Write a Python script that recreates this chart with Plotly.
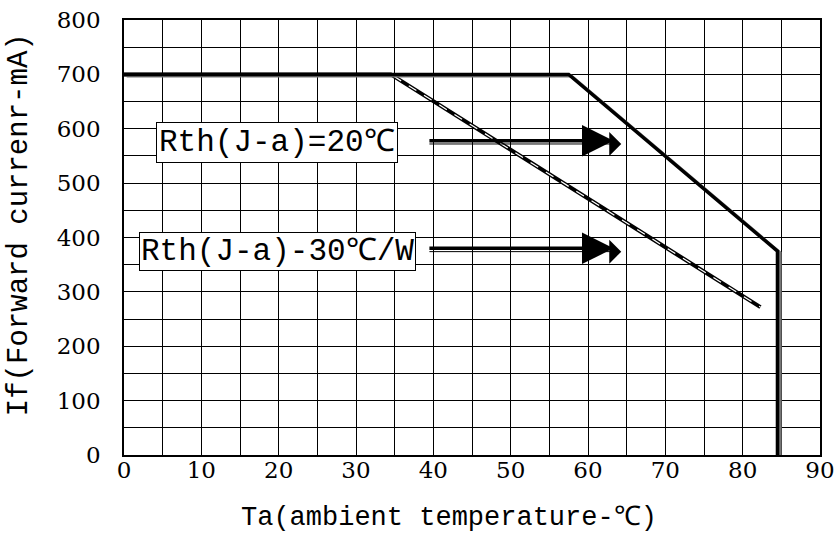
import plotly.graph_objects as go

# Data
ta_20 = [0, 57.5, 84.5, 84.5]
if_20 = [700, 700, 375, 0]
ta_30 = [0, 34.5, 82.3]
if_30 = [700, 700, 272]

x_ticks = [0, 10, 20, 30, 40, 50, 60, 70, 80, 90]
y_ticks = [0, 100, 200, 300, 400, 500, 600, 700, 800]

label_20 = "Rth(J-a)=20℃"
label_30 = "Rth(J-a)-30℃/W"
arrow_20 = dict(x0=39.3, x1=64.3, y=578)
arrow_30 = dict(x0=39.3, x1=64.3, y=380)

SERIF = "'DejaVu Serif', serif"
MONO = "'Liberation Mono', monospace"

fig = go.Figure()

# Rth 30 curve: black outline with white dashed core
fig.add_trace(go.Scatter(x=ta_30, y=if_30, mode="lines",
                         line=dict(color="black", width=4), showlegend=False))
fig.add_trace(go.Scatter(x=ta_30, y=if_30, mode="lines",
                         line=dict(color="white", width=1.2, dash="dash"), hoverinfo="skip", showlegend=False))
# Rth 20 curve: gray shadow + black line
fig.add_trace(go.Scatter(x=[v + 0.35 for v in ta_20], y=[v - 3 for v in if_20], mode="lines",
                         line=dict(color="#777777", width=3), hoverinfo="skip", showlegend=False))
fig.add_trace(go.Scatter(x=ta_20, y=if_20, mode="lines",
                         line=dict(color="black", width=3.5), showlegend=False))

fig.add_annotation(x=19.8, y=574, xref="x", yref="y", text=label_20, showarrow=False,
                   font=dict(family=MONO, size=31, color="black"),
                   bgcolor="white", bordercolor="black", borderwidth=1, borderpad=2)
fig.add_annotation(x=19.9, y=374, xref="x", yref="y", text=label_30, showarrow=False,
                   font=dict(family=MONO, size=31, color="black"),
                   bgcolor="white", bordercolor="black", borderwidth=1, borderpad=1)

for a in (arrow_20, arrow_30):
    # thin lower shaft
    fig.add_annotation(x=a["x1"], y=a["y"] - 6, ax=a["x0"], ay=a["y"] - 6, xref="x", yref="y",
                       axref="x", ayref="y", text="", showarrow=True,
                       arrowhead=1, arrowsize=4, arrowwidth=1, arrowcolor="black")
    # thick upper shaft with filled head
    fig.add_annotation(x=a["x1"] - 1.0, y=a["y"], ax=a["x0"], ay=a["y"], xref="x", yref="y",
                       axref="x", ayref="y", text="", showarrow=True,
                       arrowhead=2, arrowsize=1.8, arrowwidth=3.5, arrowcolor="black")

fig.add_annotation(x=0.467, xref="paper", y=-0.145, yref="paper", yanchor="middle",
                   text="Ta(ambient temperature-℃)", showarrow=False,
                   font=dict(family=MONO, size=27, color="black"))
fig.add_annotation(x=-0.149, xref="paper", xanchor="center", y=0.529, yref="paper",
                   text="If(Forward currenr-mA)", textangle=-90, showarrow=False,
                   font=dict(family=MONO, size=29, color="black"))

fig.update_xaxes(range=[0, 90], tickvals=x_ticks, ticktext=[str(v) for v in x_ticks],
                 showgrid=True, gridcolor="black", gridwidth=1,
                 minor=dict(dtick=5, showgrid=True, gridcolor="black", gridwidth=1),
                 showline=True, linecolor="black", linewidth=1.5, mirror=True,
                 zeroline=False, ticks="", ticklabelstandoff=-6, automargin=False,
                 ticklabeloverflow="allow",
                 tickfont=dict(family=SERIF, size=23, color="black"))
fig.update_yaxes(range=[0, 800], tickvals=y_ticks, ticktext=[str(v) for v in y_ticks],
                 showgrid=True, gridcolor="black", gridwidth=1,
                 minor=dict(dtick=50, showgrid=True, gridcolor="black", gridwidth=1),
                 showline=True, linecolor="black", linewidth=1.5, mirror=True,
                 zeroline=False, ticks="", ticklabelstandoff=17, automargin=False,
                 ticklabeloverflow="allow",
                 tickfont=dict(family=SERIF, size=23, color="black"))

fig.update_layout(width=837, height=536, margin=dict(l=124, r=17, t=20, b=81),
                  plot_bgcolor="white", paper_bgcolor="white")

fig.write_html("out.html", config={"displayModeBar": False},
               post_script="document.body.style.margin='0px';")
